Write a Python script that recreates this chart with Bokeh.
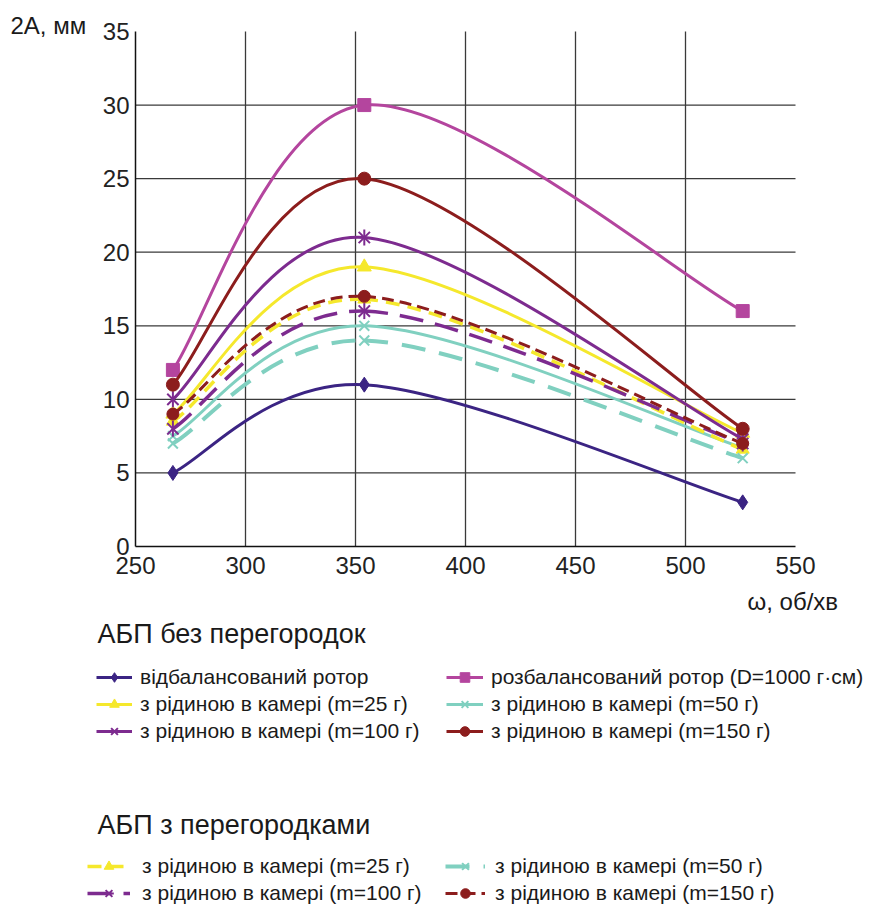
import math
from bokeh.plotting import figure
from bokeh.models import (Range1d, FixedTicker, Legend, LegendItem, Label,
                          ColumnDataSource)
from bokeh.embed import file_html
from bokeh.resources import INLINE

# ---------------- data ----------------
omega = [267, 354, 526]
balanced = [5, 11, 3]
unbalanced = [12, 30, 16]
s25 = [9, 19, 7.7]
s50 = [7.5, 15, 6.7]
s100 = [10, 21, 7.3]
s150 = [11, 25, 8]
d25 = [8.5, 16.8, 6.6]
d50 = [7, 14, 6]
d100 = [8, 16, 7]
d150 = [9, 17, 7]

x_ticks = [250, 300, 350, 400, 450, 500, 550]
y_ticks = [0, 5, 10, 15, 20, 25, 30, 35]

FONT = "Liberation Sans"
W, H = 874, 906
# plot-area edges on the page (px)
FL, FR, FT, FB = 135, 795, 31, 546
XMIN, XMAX, YMIN, YMAX = 250, 550, 0, 35
SX = (FR - FL) / (XMAX - XMIN)
SY = (FB - FT) / (YMAX - YMIN)

p = figure(width=W, height=H, output_backend="svg", toolbar_location=None,
           x_range=Range1d(XMIN - FL / SX, XMAX + (W - FR) / SX),
           y_range=Range1d(YMIN - (H - FB) / SY, YMAX + FT / SY),
           min_border=0, min_border_left=0, min_border_right=0,
           min_border_top=0, min_border_bottom=0)
p.title.visible = False
p.outline_line_color = None
p.background_fill_color = "white"
p.border_fill_color = "white"
p.xgrid.visible = False
p.ygrid.visible = False

xa, ya = p.xaxis[0], p.yaxis[0]
xa.fixed_location = YMIN
ya.fixed_location = XMIN
xa.bounds = (XMIN, XMAX)
ya.bounds = (YMIN, YMAX)
for ax in (xa, ya):
    ax.major_label_text_font = FONT
    ax.major_label_text_font_size = "24px"
    ax.major_label_text_color = "#222222"
    ax.major_tick_out = 0
    ax.major_tick_in = 0
    ax.minor_tick_out = 0
    ax.minor_tick_in = 0
    ax.axis_line_color = "#111111"
    ax.axis_line_width = 1.5
xa.ticker = FixedTicker(ticks=x_ticks)
ya.ticker = FixedTicker(ticks=y_ticks)
xa.major_label_standoff = 10
ya.major_label_standoff = 6

# grid lines from the tick lists, limited to the plot area
gx = x_ticks[1:-1]
gy = y_ticks[1:-1]
p.segment(x0=gx, y0=[YMIN] * len(gx), x1=gx, y1=[YMAX] * len(gx),
          line_color="#3a3a3a", line_width=1.3, level="underlay")
p.segment(x0=[XMIN] * len(gy), y0=gy, x1=[XMAX] * len(gy), y1=gy,
          line_color="#3a3a3a", line_width=1.3, level="underlay")


def smooth_source(xs, ys):
    n = len(xs)
    d = dict(x0=[], y0=[], x1=[], y1=[], cx0=[], cy0=[], cx1=[], cy1=[])
    for i in range(n - 1):
        a = i - 1 if i > 0 else i
        b = i + 2 if i + 2 < n else i + 1
        d["x0"].append(xs[i]); d["y0"].append(ys[i])
        d["x1"].append(xs[i + 1]); d["y1"].append(ys[i + 1])
        d["cx0"].append(xs[i] + (xs[i + 1] - xs[a]) / 6)
        d["cy0"].append(ys[i] + (ys[i + 1] - ys[a]) / 6)
        d["cx1"].append(xs[i + 1] - (xs[b] - xs[i]) / 6)
        d["cy1"].append(ys[i + 1] - (ys[b] - ys[i]) / 6)
    return ColumnDataSource(d)


NAVY = "#3b2483"
MAGENTA = "#b4459e"
YELLOW = "#f5e82c"
CYAN = "#80d0c0"
PURPLE = "#7d2b8f"
RED = "#8c1d1d"


def series(ys, color, marker, dash="solid", lw=3.0, msize=12):
    src = smooth_source(omega, ys)
    rs = [p.bezier(x0="x0", y0="y0", x1="x1", y1="y1", cx0="cx0", cy0="cy0",
                   cx1="cx1", cy1="cy1", source=src, line_color=color,
                   line_width=lw, line_dash=dash)]
    if marker == "star":
        rs.append(p.scatter(omega, ys, marker="x", size=msize, line_color=color,
                            line_width=2))
        rs.append(p.scatter(omega, ys, marker="dash", angle=math.pi / 2,
                            size=msize, line_color=color, line_width=2))
    elif marker == "x":
        rs.append(p.scatter(omega, ys, marker="x", size=msize, line_color=color,
                            line_width=2))
    else:
        rs.append(p.scatter(omega, ys, marker=marker, size=msize,
                            fill_color=color, line_color=color))
    return rs


r_bal = series(balanced, NAVY, "diamond", msize=15)
r_unb = series(unbalanced, MAGENTA, "square", msize=13)
r_s25 = series(s25, YELLOW, "triangle", msize=14)
r_s50 = series(s50, CYAN, "x", msize=14)
r_s100 = series(s100, PURPLE, "star", msize=16)
r_s150 = series(s150, RED, "circle", msize=13)
r_d25 = series(d25, YELLOW, "triangle", dash="14 8", lw=3.5, msize=13)
r_d50 = series(d50, CYAN, "x", dash="24 14", lw=4, msize=14)
r_d100 = series(d100, PURPLE, "star", dash="24 12", lw=3.5, msize=16)
r_d150 = series(d150, RED, "circle", dash="12 6", lw=3, msize=12)

lab_m25 = "з рідиною в камері (m=25 г)"
lab_m50 = "з рідиною в камері (m=50 г)"
lab_m100 = "з рідиною в камері (m=100 г)"
lab_m150 = "з рідиною в камері (m=150 г)"


def make_legend(items, left, bottom, gw, standoff):
    lg = Legend(items=[LegendItem(label=l, renderers=r) for l, r in items],
                location=(left, H - bottom), orientation="vertical",
                glyph_width=gw, glyph_height=24, label_standoff=standoff,
                label_height=24, spacing=3, padding=0, margin=0,
                border_line_color=None, background_fill_alpha=0,
                label_text_font=FONT, label_text_font_size="21px",
                label_text_color="#1a1a1a", label_text_baseline="middle")
    p.add_layout(lg, "center")


# legend block 1 (rows centred at ~677, 704, 730)
make_legend([("відбалансований ротор", r_bal), (lab_m25, r_s25), (lab_m100, r_s100)],
            96, 743, 36, 8)
make_legend([("розбалансований ротор (D=1000 г·см)", r_unb), (lab_m50, r_s50),
             (lab_m150, r_s150)],
            446, 743, 37, 8)
# legend block 2 (rows centred at ~865, 892)
make_legend([(lab_m25, r_d25), (lab_m100, r_d100)], 87, 905, 43, 12)
make_legend([(lab_m50, r_d50), (lab_m150, r_d150)], 445, 905, 40, 10)


def add_label(text, left, cy, size):
    p.add_layout(Label(x=left, y=H - cy, x_units="screen", y_units="screen",
                       text=text, text_font=FONT, text_font_size=size,
                       text_color="#1a1a1a", text_baseline="middle",
                       text_align="left"))


add_label("2A, мм", 10, 25, "24px")
add_label("ω, об/хв", 747, 601, "24px")
add_label("АБП без перегородок", 97, 633, "27px")
add_label("АБП з перегородками", 97, 824, "27px")

open("out.html", "w").write(file_html(p, INLINE))
